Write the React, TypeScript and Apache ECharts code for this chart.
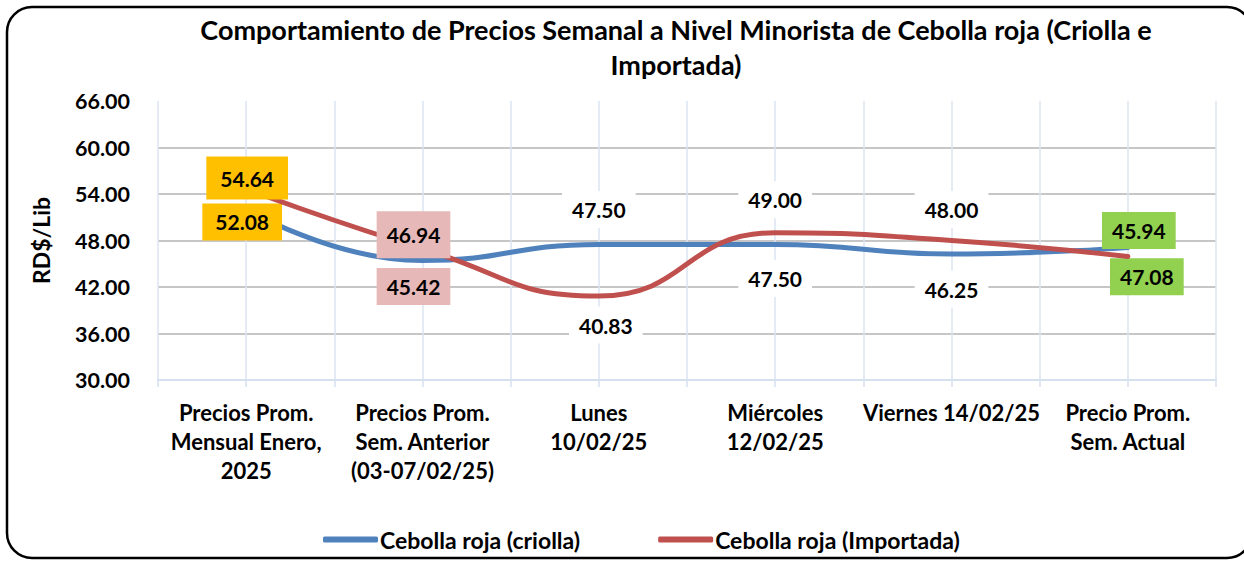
import React, { useEffect, useRef } from "react";
import * as echarts from "echarts";

const categories = [
  "Precios Prom.\nMensual Enero,\n2025",
  "Precios Prom.\nSem. Anterior\n(03-07/02/25)",
  "Lunes\n10/02/25",
  "Miércoles\n12/02/25",
  "Viernes 14/02/25",
  "Precio Prom.\nSem. Actual",
];
const criolla = [52.08, 45.42, 47.5, 47.5, 46.25, 47.08];
const importada = [54.64, 46.94, 40.83, 49.0, 48.0, 45.94];
const seriesNames = ["Cebolla roja (criolla)", "Cebolla roja (Importada)"];
const yMin = 30;
const yMax = 66;
const yStep = 6;

// label styling (positions relative to the point, box colours)
const criollaOffsets = [[-4, 13], [-9, 26], [0, -35], [0, 34], [0, 35], [19, 29]];
const importadaOffsets = [[1, -11], [-9, -14], [7, 29], [0, -33], [0, -31], [11, -26]];
const boxColors = ["#ffc000", "#e6b9b8", "#ffffff", "#ffffff", "#ffffff", "#92d050"];
const criollaPad = [[8, 13], [8, 10], [8, 10], [8, 10], [8, 10], [8, 10]];
const importadaPad = [[11, 14], [13, 10], [8, 10], [8, 10], [8, 10], [8, 10]];

const FONT = "Lato";

function buildData(values: number[], offsets: number[][], pads: number[][]) {
  return values.map((v, i) => ({
    value: v,
    label: {
      offset: offsets[i],
      backgroundColor: boxColors[i],
      padding: pads[i],
    },
  }));
}

export default function App() {
  const ref = useRef<HTMLDivElement>(null);
  useEffect(() => {
    if (!ref.current) return;
    const chart = echarts.init(ref.current, undefined, { renderer: "svg" });
    const labelBase = {
      show: true,
      position: "inside",
      formatter: (p: any) => Number(p.value).toFixed(2),
      fontFamily: FONT,
      fontWeight: "bold",
      fontSize: 21,
      color: "#000",
    };
    const gridColors = ["rgba(0,0,0,0)", "#b3b3b3", "#b3b3b3", "#b3b3b3", "#b3b3b3", "#b3b3b3", "rgba(0,0,0,0)"];
    chart.setOption({
      animation: false,
      backgroundColor: "#fff",
      title: {
        text: "Comportamiento de Precios Semanal a Nivel Minorista de Cebolla roja (Criolla e\nImportada)",
        left: 671,
        top: 7,
        textAlign: "center",
        textStyle: {
          fontFamily: FONT,
          fontWeight: "bold",
          fontSize: 27,
          lineHeight: 35,
          color: "#000",
        },
      },
      legend: {
        left: 318,
        top: 523,
        itemWidth: 55,
        itemHeight: 6,
        itemGap: 78,
        icon: "roundRect",
        textStyle: {
          fontFamily: FONT,
          fontWeight: "bold",
          fontSize: 23,
          color: "#000",
          padding: [0, 0, 0, -3],
        },
        data: seriesNames,
      },
      grid: { left: 158, right: 28, top: 101, bottom: 181, containLabel: false },
      xAxis: [
        {
          type: "category",
          data: categories,
          boundaryGap: true,
          axisLine: { show: true, lineStyle: { color: "#d6e1f0", width: 2 } },
          axisTick: { show: false },
          splitLine: { show: false },
          axisLabel: {
            interval: 0,
            margin: 18,
            fontFamily: FONT,
            fontWeight: "bold",
            fontSize: 22,
            lineHeight: 29,
            color: "#000",
          },
        },
        {
          type: "value",
          min: 0,
          max: 12,
          interval: 1,
          position: "bottom",
          axisLine: { show: false },
          axisLabel: { show: false },
          axisTick: { show: true, length: 7, inside: false, lineStyle: { color: "#d6e1f0", width: 1.5 } },
          splitLine: { show: true, lineStyle: { color: "#dbe5f1", width: 1.5 } },
        },
      ],
      yAxis: {
        type: "value",
        min: yMin,
        max: yMax,
        interval: yStep,
        name: "RD$/Lib",
        nameLocation: "middle",
        nameGap: 106,
        nameRotate: 90,
        nameTextStyle: { fontFamily: FONT, fontWeight: "bold", fontSize: 23, color: "#000" },
        axisLine: { show: false },
        axisTick: { show: false },
        axisLabel: {
          formatter: (v: number) => v.toFixed(2),
          margin: 28,
          fontFamily: FONT,
          fontWeight: "bold",
          fontSize: 21.5,
          color: "#000",
        },
        splitLine: { show: true, lineStyle: { color: gridColors, width: 1.5 } },
      },
      series: [
        {
          name: seriesNames[0],
          type: "line",
          xAxisIndex: 0,
          data: buildData(criolla, criollaOffsets, criollaPad),
          smooth: 0.5,
          symbol: "circle",
          symbolSize: 2,
          itemStyle: { color: "#4f81bd" },
          lineStyle: { color: "#4f81bd", width: 5, cap: "round" },
          label: labelBase,
          z: 3,
        },
        {
          name: seriesNames[1],
          type: "line",
          xAxisIndex: 0,
          data: buildData(importada, importadaOffsets, importadaPad),
          smooth: 0.5,
          symbol: "circle",
          symbolSize: 2,
          itemStyle: { color: "#c0504d" },
          lineStyle: { color: "#c0504d", width: 5, cap: "round" },
          label: labelBase,
          z: 4,
        },
      ],
      graphic: [
        {
          type: "rect",
          shape: { x: 7, y: 7, width: 1245, height: 551, r: 25 },
          style: { fill: "none", stroke: "#000", lineWidth: 2.5 },
          z: 100,
        },
      ],
    });
    return () => chart.dispose();
  }, []);
  return (
    <div
      ref={ref}
      style={{ position: "fixed", left: 0, top: 0, width: 1244, height: 561, background: "#fff" }}
    />
  );
}
